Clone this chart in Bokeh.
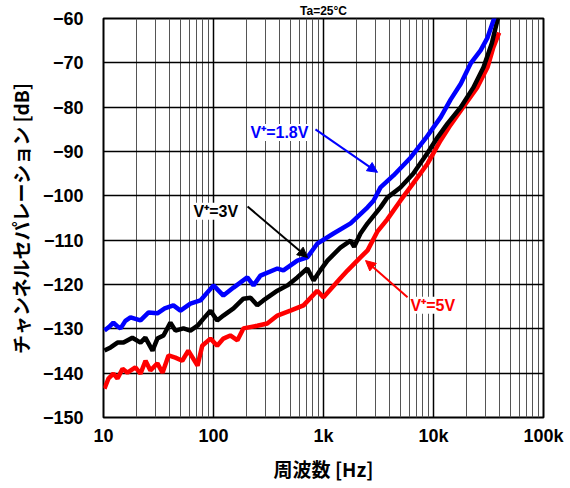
from bokeh.plotting import figure
from bokeh.models import FixedTicker, Label, Arrow, NormalHead
from bokeh.embed import file_html
from bokeh.resources import INLINE

# ---- data ----
blue_f = [10.2, 11.2, 12.3, 13.3, 14.3, 15.8, 17.6, 21.7, 25.7, 30.9, 36, 43.2, 50.1, 61.7, 76, 100, 123,
          152, 203, 231, 267, 381, 432, 578, 712, 877, 1233, 1763, 2516, 2851, 3298, 4330, 6180, 8500,
          11600, 14300, 17700, 21700, 26800, 31000, 35000, 38000]
blue_db = [-130.4, -129.6, -128.6, -129.4, -129.9, -128.2, -127.4, -128.1, -126.3, -126.5, -125.4, -124.7,
           -125.9, -124.3, -123.6, -120.2, -122.5, -120.7, -118.4, -120.2, -118.0, -116.4, -116.8, -114.6,
           -113.9, -110.8, -108.5, -106.2, -102.6, -101.1, -98.1, -95.4, -91.4, -87.0, -82.3, -78.3, -74.7,
           -70.2, -67.2, -64.3, -60.5, -58.0]

black_f = [10.2, 11.6, 13.4, 15.2, 18.3, 21.7, 24, 27.9, 30.9, 35.1, 40.6, 45.1, 53.3, 61.7, 71.6, 81.1,
           93.8, 108, 123, 152, 187, 217, 250, 284, 381, 470, 578, 712, 812, 935, 1086, 1424, 1763, 1900,
           2168, 2516, 3298, 3800, 5000, 6530, 8850, 10900, 13400, 17700, 23000, 28500, 33900, 38000, 40600]
black_db = [-134.9, -134.2, -133.1, -133.1, -132.0, -133.1, -132.0, -134.9, -132.2, -131.5, -128.6, -130.4,
            -129.9, -130.4, -129.3, -127.7, -125.9, -128.1, -127.0, -125.4, -123.2, -123.0, -124.7, -123.6,
            -121.4, -120.2, -118.4, -116.4, -119.1, -116.8, -114.6, -111.7, -110.1, -111.5, -108.5, -106.2,
            -102.6, -100.4, -98.1, -95.0, -90.3, -86.8, -83.7, -80.0, -75.6, -71.0, -65.6, -60.5, -58.0]

red_f = [10.2, 11.1, 12.3, 13.4, 14.9, 16.5, 19.5, 21.7, 24.1, 26.7, 30.9, 34.4, 39, 45, 52, 59, 71.6, 79,
         93.8, 108, 123, 142, 165, 187, 250, 308, 381, 500, 658, 877, 1000, 1424, 1660, 2168, 2516, 3100,
         3800, 5000, 6530, 8850, 11600, 14300, 18600, 24900, 31000, 35000, 39500]
red_db = [-143.5, -141.2, -140.1, -141.2, -139.0, -139.9, -138.7, -140.1, -137.2, -139.4, -137.8, -139.9,
          -136.0, -136.5, -137.2, -134.9, -138.3, -133.8, -132.2, -133.8, -132.2, -131.5, -132.6, -129.9,
          -129.3, -128.8, -127.0, -125.9, -124.7, -121.4, -122.9, -118.6, -116.8, -113.9, -112.3, -108.0,
          -105.3, -101.1, -97.2, -92.7, -87.5, -84.0, -80.0, -75.6, -71.0, -66.5, -63.2]

x_ticks = [10, 100, 1000, 10000, 100000]
x_tick_labels = ["10", "100", "1k", "10k", "100k"]
y_ticks = [-150, -140, -130, -120, -110, -100, -90, -80, -70, -60]

FONT = "Liberation Sans"
CJK = "Noto Sans CJK JP"

p = figure(width=570, height=488, x_axis_type="log", x_range=(10, 100000), y_range=(-150, -60),
           output_backend="svg", toolbar_location=None, title="Ta=25°C",
           min_border_left=103, min_border_right=27, min_border_top=18, min_border_bottom=71)

p.title.align = "center"
p.title.text_font = FONT
p.title.text_font_style = "bold"
p.title.text_font_size = "12px"
p.title.text_color = "black"
p.title.standoff = 2

minor = [k * 10 ** d for d in range(1, 5) for k in range(2, 10)]
p.xaxis.ticker = FixedTicker(ticks=x_ticks, minor_ticks=minor)
p.xaxis.major_label_overrides = {t: l for t, l in zip(x_ticks, x_tick_labels)}
p.yaxis.ticker = FixedTicker(ticks=y_ticks)

for ax in (p.xaxis, p.yaxis):
    ax.axis_line_color = None
    ax.major_tick_line_color = None
    ax.minor_tick_line_color = None
    ax.major_tick_out = 0
    ax.major_tick_in = 0
    ax.minor_tick_out = 0
    ax.minor_tick_in = 0
    ax.major_label_text_font = FONT
    ax.major_label_text_font_style = "bold"
    ax.major_label_text_font_size = "18px"
    ax.major_label_text_color = "black"
    ax.axis_label_text_font = CJK
    ax.axis_label_text_font_style = "bold"
    ax.axis_label_text_font_size = "19px"
    ax.axis_label_text_color = "black"

p.xaxis.axis_label = "周波数 [Hz]"
p.yaxis.axis_label = "チャンネルセパレーション [dB]"
p.xaxis.major_label_standoff = 8
p.xaxis.axis_label_standoff = 6
p.yaxis.major_label_standoff = 20
p.yaxis.axis_label_standoff = 6

p.xgrid.grid_line_color = "black"
p.xgrid.grid_line_width = 1.5
p.xgrid.minor_grid_line_color = "#555555"
p.xgrid.minor_grid_line_width = 1
p.ygrid.grid_line_color = "black"
p.ygrid.grid_line_width = 1.5

p.outline_line_color = "black"
p.outline_line_width = 2
p.background_fill_color = "white"
p.border_fill_color = "white"

p.line(red_f, red_db, line_color="#FF0000", line_width=4.5)
p.line(black_f, black_db, line_color="black", line_width=4.5)
p.line(blue_f, blue_db, line_color="#0000FF", line_width=4.5)

def note(x, y, text, color):
    p.add_layout(Label(x=x, y=y, text=text, text_color=color, text_font=FONT, text_font_style="bold",
                       text_font_size="16px", text_align="left", text_baseline="middle",
                       background_fill_color="white"))

def arrow(x0, y0, x1, y1, color):
    p.add_layout(Arrow(end=NormalHead(size=10, fill_color=color, line_color=color),
                       x_start=x0, y_start=y0, x_end=x1, y_end=y1, line_color=color, line_width=2))

note(217, -85.7, "V⁺=1.8V", "#0000FF")
arrow(845, -85.0, 3097, -94.7, "#0000FF")
note(65.8, -103.5, "V⁺=3V", "black")
arrow(204, -102.4, 716, -113.9, "black")
note(6180, -124.7, "V⁺=5V", "#FF0000")
arrow(5808, -122.9, 2410, -114.6, "#FF0000")

open("out.html", "w").write(file_html(p, INLINE))
